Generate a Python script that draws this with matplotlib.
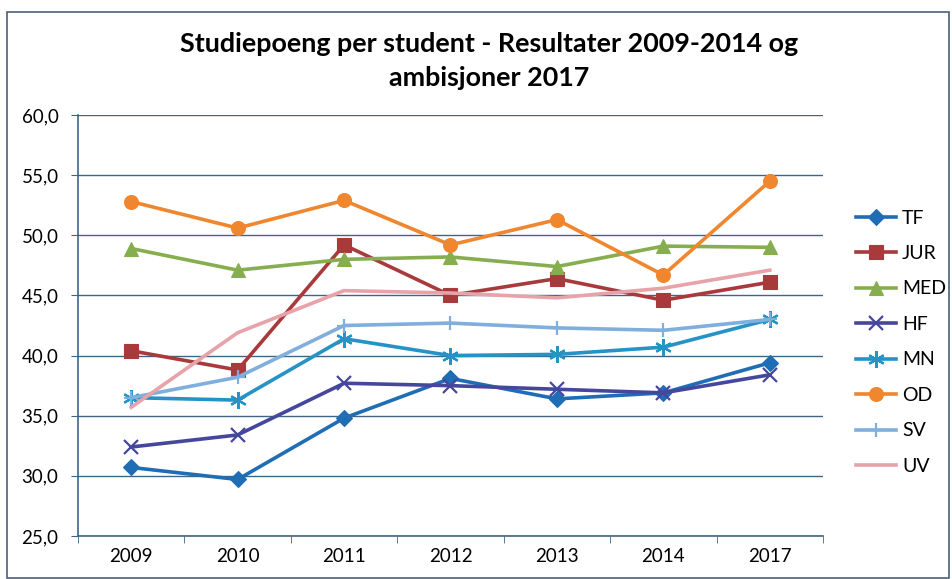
import matplotlib.pyplot as plt
import numpy as np
from matplotlib.patches import Rectangle
from matplotlib.ticker import FixedLocator

plt.rcParams['font.family'] = ['Lato', 'DejaVu Sans']

years = ['2009', '2010', '2011', '2012', '2013', '2014', '2017']

tf = [30.7, 29.7, 34.8, 38.1, 36.4, 36.9, 39.4]
jur = [40.4, 38.8, 49.2, 45.0, 46.4, 44.6, 46.1]
med = [48.9, 47.1, 48.0, 48.2, 47.4, 49.1, 49.0]
hf = [32.4, 33.4, 37.7, 37.5, 37.2, 36.9, 38.4]
mn = [36.5, 36.3, 41.4, 40.0, 40.1, 40.7, 43.0]
od = [52.8, 50.6, 52.9, 49.2, 51.3, 46.7, 54.5]
sv = [36.5, 38.2, 42.5, 42.7, 42.3, 42.1, 43.0]
uv = [35.7, 41.9, 45.4, 45.2, 44.8, 45.6, 47.1]

series = [
    ('TF', tf, '#1F6DB5', 'D', 8),
    ('JUR', jur, '#A83A3C', 's', 10),
    ('MED', med, '#86AE4E', '^', 10),
    ('HF', hf, '#45479C', 'x', 10),
    ('MN', mn, '#2593C6', (6, 2, 0), 12),
    ('OD', od, '#F0862E', 'o', 10),
    ('SV', sv, '#80AEDD', '+', 10),
    ('UV', uv, '#E7A2AA', '', 0),
]

fig = plt.figure(figsize=(9.52, 5.79), dpi=100)
ax = fig.add_axes([78 / 952, 1 - 536 / 579, (823 - 78) / 952, (536 - 115) / 579])

x = np.arange(len(years))
for name, vals, col, mk, ms in series:
    ax.plot(x, vals, color=col, lw=2.6, marker=mk, markersize=ms,
            markeredgewidth=1.6 if mk in ('x', '+', (6, 2, 0)) else 0.8,
            markeredgecolor=col, markerfacecolor=col, label=name)

grid_col = '#3E6585'
ax.set_ylim(25, 60)
ax.set_yticks(np.arange(25, 61, 5))
ax.set_yticklabels([f'{v:.1f}'.replace('.', ',') for v in np.arange(25, 61, 5)])
ax.yaxis.grid(True, color=grid_col, lw=1)
ax.set_axisbelow(True)

ax.set_xlim(-0.5, len(years) - 0.5)
ax.set_xticks(x)
ax.set_xticklabels(years)
ax.xaxis.set_minor_locator(FixedLocator(np.arange(-0.5, len(years), 1)))
ax.tick_params(axis='x', which='major', length=0, pad=9, labelsize=13.5)
ax.tick_params(axis='x', which='minor', length=5, color=grid_col, direction='out')
ax.tick_params(axis='y', length=5, color=grid_col, pad=9, labelsize=13.5)

for s in ['top', 'right']:
    ax.spines[s].set_visible(False)
for s in ['left', 'bottom']:
    ax.spines[s].set_color(grid_col)
    ax.spines[s].set_linewidth(1.2)

fig.text(489 / 952, 1 - 61 / 579, 'Studiepoeng per student - Resultater 2009-2014 og\nambisjoner 2017',
         ha='center', va='center', fontsize=19.4, fontweight='bold', linespacing=1.45)

fig.legend(loc='upper left', bbox_to_anchor=(838 / 952, 1 - 192 / 579), frameon=False,
           fontsize=14, handlelength=2.1, labelspacing=0.95, handletextpad=0.3)

fig.patches.append(Rectangle((7 / 952, 0.002), 942 / 952, 1 - 12 / 579 - 0.002,
                             transform=fig.transFigure, fill=False,
                             edgecolor='#4D5F78', lw=1.2))

fig.savefig('out.png', dpi=100)
